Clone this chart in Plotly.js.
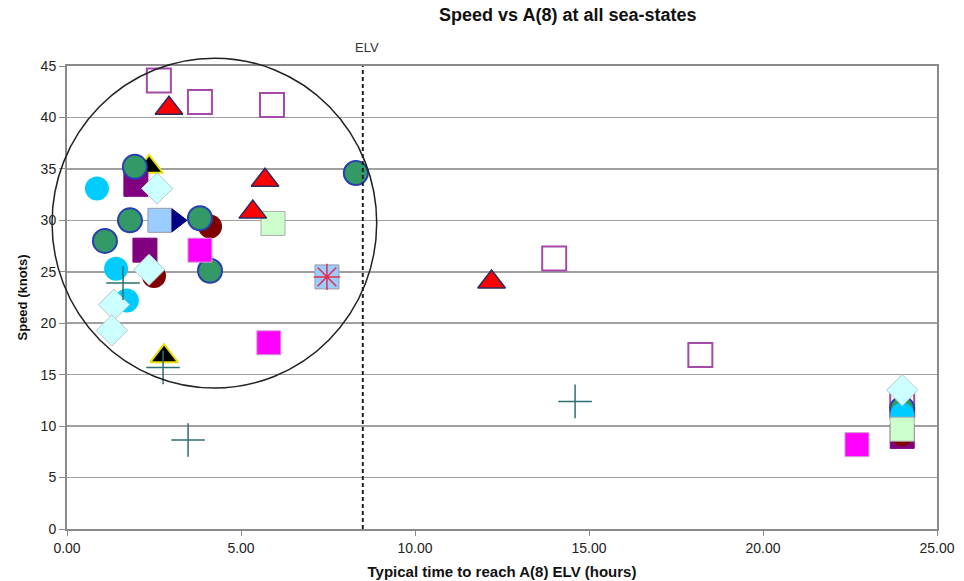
<!DOCTYPE html>
<html>
<head>
<meta charset="utf-8">
<script src="https://cdn.plot.ly/plotly-3.0.1.min.js"></script>
<style>html,body{margin:0;padding:0;background:#fff;}#chart{width:964px;height:581px;}</style>
</head>
<body>
<div id="chart"></div>
<script>
// ---- data (hours to reach A(8) ELV, speed in knots) ----
const openSqX = [2.64, 3.82, 5.89, 14.0, 18.2, 24.0];
const openSqY = [43.6, 41.5, 41.2, 26.3, 16.9, 12.0];

const blackTriX = [2.36, 2.79];
const blackTriY = [35.2, 16.8];

const purpleSqX = [1.98, 2.24, 24.0];
const purpleSqY = [33.5, 27.1, 9.0];

const maroonX = [4.11, 2.50, 24.0];
const maroonY = [29.4, 24.6, 9.2];

const greenCircX = [1.95, 8.30, 1.81, 3.82, 1.09, 4.11, 24.0];
const greenCircY = [35.2, 34.6, 30.0, 30.2, 28.0, 25.1, 11.7];

const cyanCircX = [0.86, 1.41, 1.72, 24.0];
const cyanCircY = [33.1, 25.3, 22.2, 11.1];

const lightBlueSqX = [2.67, 7.47];
const lightBlueSqY = [30.0, 24.5];

const navyTriX = [3.16];
const navyTriY = [30.0];

const magentaSqX = [3.82, 5.80, 22.7];
const magentaSqY = [27.1, 18.1, 8.2];

const lightGreenSqX = [5.92, 24.0];
const lightGreenSqY = [29.7, 9.7];

const redTriX = [2.93, 5.69, 5.34, 12.2];
const redTriY = [40.9, 33.9, 30.8, 24.0];

const diamondX = [2.59, 2.36, 1.35, 1.29, 24.0];
const diamondY = [33.1, 25.2, 21.8, 19.3, 13.5];

const crossX = [1.61, 2.76, 3.48, 14.6];
const crossY = [23.9, 15.7, 8.65, 12.4];

const starX = [7.47];
const starY = [24.5];

const xTicks = [0, 5, 10, 15, 20, 25];
const yTicks = [0, 5, 10, 15, 20, 25, 30, 35, 40, 45];
const elvHours = 8.5;

function tr(x, y, symbol, size, fill, lineColor, lineWidth) {
  return {
    x: x, y: y, type: 'scatter', mode: 'markers', showlegend: false, hoverinfo: 'x+y',
    cliponaxis: false,
    marker: {symbol: symbol, size: size, color: fill,
             line: {color: lineColor, width: lineWidth}}
  };
}

const data = [
  tr(openSqX, openSqY, 'square-open', 24, '#a64aa8', '#a64aa8', 2),
  tr(blackTriX, blackTriY, 'triangle-up', 24, '#000000', '#e8e000', 2),
  tr(purpleSqX, purpleSqY, 'square', 24, '#800080', '#800080', 1),
  tr(maroonX, maroonY, 'circle', 24, '#800000', '#800000', 0),
  tr(greenCircX, greenCircY, 'circle', 24, '#339966', '#2a3eb0', 2),
  tr(cyanCircX, cyanCircY, 'circle', 24, '#00ccff', '#00ccff', 0),
  tr(lightBlueSqX, lightBlueSqY, 'square', 24, '#99ccff', '#9a9aa8', 1),
  tr(navyTriX, navyTriY, 'triangle-right', 20, '#000080', '#000080', 1),
  tr(magentaSqX, magentaSqY, 'square', 24, '#ff00ff', '#d0a0d0', 1),
  tr(lightGreenSqX, lightGreenSqY, 'square', 24, '#ccffcc', '#a8b0a8', 1),
  tr(redTriX, redTriY, 'triangle-up', 24, '#ff0000', '#2a2a60', 1.5),
  tr(diamondX, diamondY, 'diamond', 24, '#ccffff', '#b8c8c8', 1),
  tr(crossX, crossY, 'cross-thin-open', 24, '#2f6f6f', '#2f6f6f', 1.5),
  tr(starX, starY, 'asterisk-open', 22, '#e03050', '#e03050', 1.5)
];

const layout = {
  width: 964, height: 581,
  margin: {l: 67, r: 27, t: 66, b: 52},
  paper_bgcolor: '#ffffff', plot_bgcolor: '#ffffff',
  font: {family: 'Liberation Sans, Arial, sans-serif', size: 14, color: '#222'},
  title: {text: '<b>Speed vs A(8) at all sea-states</b>', x: 0.589, xanchor: 'center',
          y: 0.985, yanchor: 'top', font: {size: 18, color: '#111'}},
  xaxis: {
    range: [0, 25], tickvals: xTicks, tickformat: '.2f',
    showgrid: false, zeroline: false,
    showline: true, linecolor: '#8a8a8a', linewidth: 2, mirror: true,
    ticks: 'outside', ticklen: 5, tickcolor: '#8a8a8a',
    tickfont: {size: 14, color: '#222'},
    title: {text: '<b>Typical time to reach A(8) ELV (hours)</b>', standoff: 12,
            font: {size: 15, color: '#111'}}
  },
  yaxis: {
    range: [0, 45], tickvals: yTicks,
    showgrid: true, gridcolor: '#a0a0a0', gridwidth: 1.5, zeroline: false,
    showline: true, linecolor: '#8a8a8a', linewidth: 2, mirror: true,
    ticks: 'outside', ticklen: 6, tickcolor: '#8a8a8a',
    tickfont: {size: 14, color: '#222'},
    title: {text: '<b>Speed (knots)</b>', standoff: 10, font: {size: 13, color: '#111'}}
  },
  shapes: [
    {type: 'line', xref: 'x', yref: 'y', x0: elvHours, x1: elvHours, y0: 0, y1: 45,
     line: {color: '#222', width: 2, dash: '4px,3px'}},
    {type: 'circle', xref: 'paper', yref: 'paper',
     x0: -0.0172, x1: 0.356, y0: 0.3045, y1: 1.017,
     line: {color: '#222', width: 1.5}, fillcolor: 'rgba(0,0,0,0)'}
  ],
  annotations: [
    {text: 'ELV', xref: 'x', yref: 'paper', x: elvHours, y: 1.041, xshift: 4,
     showarrow: false, xanchor: 'center', yanchor: 'middle',
     font: {size: 13, color: '#333'}}
  ]
};

Plotly.newPlot('chart', data, layout, {staticPlot: true, displayModeBar: false});
</script>
</body>
</html>
